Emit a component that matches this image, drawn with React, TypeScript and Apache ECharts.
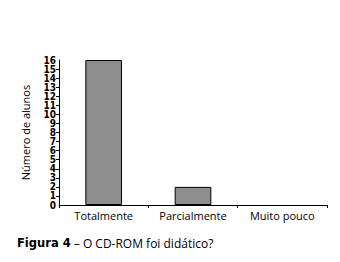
import React, { useEffect, useRef } from "react";
import * as echarts from "echarts";

const categories = ["Totalmente", "Parcialmente", "Muito pouco"];
const values = [16, 2, 0];
const yTitle = "Número de alunos";
const yMin = 0;
const yMax = 16;
const captionBold = "Figura 4";
const captionRest = " – O CD-ROM foi didático?";

const labelRich = {
  a: {
    color: "#000",
    fontFamily: "DejaVu Sans Condensed",
    fontWeight: "bold",
    fontSize: 10,
    height: 6,
    lineHeight: 6,
  },
};

export default function App() {
  const ref = useRef<HTMLDivElement>(null);
  useEffect(() => {
    const chart = echarts.init(ref.current!, null, { renderer: "svg" });
    chart.setOption({
      animation: false,
      backgroundColor: "#ffffff",
      title: {
        left: 12,
        top: 232,
        text: `{b|${captionBold}}{r|${captionRest}}`,
        textStyle: {
          rich: {
            b: { fontFamily: "DejaVu Sans", fontWeight: "bold", fontSize: 11.5, color: "#000" },
            r: { fontFamily: "Open Sans", fontWeight: "normal", fontSize: 12, color: "#000" },
          },
        },
      },
      grid: { left: 59, right: 13, top: 60, bottom: 57 },
      xAxis: {
        type: "category",
        data: categories,
        axisLine: { lineStyle: { color: "#000", width: 1 } },
        axisTick: { show: true, length: 3, alignWithLabel: false, lineStyle: { color: "#000" } },
        axisLabel: { color: "#000", fontFamily: "Open Sans", fontSize: 11, margin: 5 },
      },
      yAxis: [
        {
          type: "value",
          min: yMin,
          max: yMax,
          interval: 1,
          name: yTitle,
          nameLocation: "middle",
          nameGap: 28,
          nameTextStyle: { color: "#000", fontFamily: "Open Sans", fontSize: 11 },
          axisLine: { show: true, lineStyle: { color: "#000", width: 1 } },
          axisTick: { show: true, length: 3, lineStyle: { color: "#000" } },
          axisLabel: {
            margin: 3,
            hideOverlap: false,
            showMinLabel: false,
            showMaxLabel: false,
            formatter: "{a|{value}}",
            rich: labelRich,
          },
          splitLine: { show: false },
        },
        {
          type: "value",
          position: "left",
          min: yMin,
          max: yMax,
          interval: yMax - yMin,
          axisLine: { show: false },
          axisTick: { show: false },
          axisLabel: {
            margin: 3,
            showMinLabel: true,
            showMaxLabel: true,
            formatter: "{a|{value}}",
            rich: labelRich,
          },
          splitLine: { show: false },
        },
      ],
      series: [
        {
          type: "bar",
          data: values.map((v) => (v === 0 ? { value: v, itemStyle: { borderWidth: 0, opacity: 0 } } : v)),
          barWidth: "41%",
          itemStyle: { color: "#8e8e8e", borderColor: "#000", borderWidth: 1 },
        },
      ],
    });
    return () => chart.dispose();
  }, []);
  return <div ref={ref} style={{ position: "fixed", left: 0, top: 0, width: 340, height: 262 }} />;
}
